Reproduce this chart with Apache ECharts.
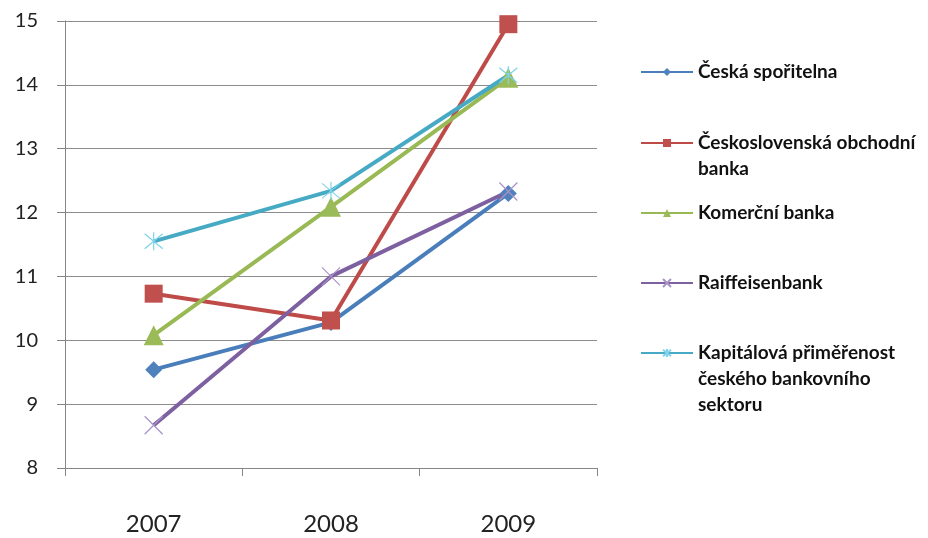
<!DOCTYPE html>
<html><head><meta charset="utf-8">
<script src="https://cdn.jsdelivr.net/npm/echarts@6/dist/echarts.min.js"></script>
<style>html,body{margin:0;padding:0;background:#fff}#c{width:928px;height:538px}</style>
</head><body><div id="c"></div>
<script>
const categories = ['2007', '2008', '2009'];
const ceskaSporitelna = [9.54, 10.28, 12.30];
const csob = [10.73, 10.31, 14.95];
const komercniBanka = [10.08, 12.09, 14.11];
const raiffeisenbank = [8.67, 11.0, 12.33];
const kapitalovaPrimerenost = [11.55, 12.34, 14.15];
const seriesNames = ['Česká spořitelna', 'Československá obchodní banka', 'Komerční banka', 'Raiffeisenbank', 'Kapitálová přiměřenost českého bankovního sektoru'];
const legendLabels = ['Česká spořitelna', 'Československá obchodní\nbanka', 'Komerční banka', 'Raiffeisenbank', 'Kapitálová přiměřenost\nčeského bankovního\nsektoru'];
const yTicks = {min: 8, max: 15, interval: 1};

const colors = ['#4A7EBB', '#BE4B48', '#98B954', '#7D60A0', '#46AAC5'];
const markerColors = ['#4F81BD', '#C0504D', '#9BBB59', '#A992C8', '#7FD3EA'];
const values = [ceskaSporitelna, csob, komercniBanka, raiffeisenbank, kapitalovaPrimerenost];
const symbols = ['diamond', 'rect', 'triangle', 'path://M0,0L10,10M10,0L0,10', 'path://M0,0L10,10M10,0L0,10M5,-1L5,11'];
const sizes = [17, 18, 20, 18, 18];
const stroked = [false, false, false, true, true];

const font = 'Lato, "Open Sans", sans-serif';
const series = seriesNames.map((n, i) => ({
  name: n, type: 'line', data: values[i], symbol: symbols[i], symbolSize: sizes[i],
  showAllSymbol: true,
  lineStyle: {color: colors[i], width: 4},
  itemStyle: stroked[i] ? {color: 'rgba(0,0,0,0)', borderColor: markerColors[i], borderWidth: 1.2}
                        : {color: markerColors[i], borderWidth: 0},
  emphasis: {disabled: true},
  animation: false
}));

const legendIconY = [72, 143, 213, 283, 353];
const lh = 26;
const legends = seriesNames.map((n, i) => {
  const parts = legendLabels[i].split('\n');
  const lines = parts.length;
  // prepend blank lines so the first line sits level with the legend icon
  const label = Array(lines - 1).fill(' ').concat(parts).join('\n');
  const half = (2 * lines - 1) * lh / 2;
  return {
    data: [n], orient: 'vertical', left: 640, top: legendIconY[i] - half, padding: 0,
    itemWidth: 52, itemHeight: 10, itemGap: 0,
    formatter: () => label,
    lineStyle: {width: 2},
    textStyle: {fontFamily: font, fontSize: 19, fontWeight: 'bold', color: '#111', lineHeight: lh},
    selectedMode: false
  };
});

const chart = echarts.init(document.getElementById('c'), null, {renderer: 'canvas'});
chart.setOption({
  animation: false,
  grid: {left: 65, top: 21, right: 331, bottom: 70, containLabel: false},
  legend: legends,
  xAxis: {
    type: 'category', data: categories, boundaryGap: true,
    axisLine: {lineStyle: {color: '#868686', width: 1}},
    axisTick: {show: true, length: 8, alignWithLabel: false, lineStyle: {color: '#868686'}},
    axisLabel: {fontFamily: font, fontSize: 24, color: '#222', margin: 44}
  },
  yAxis: {
    type: 'value', min: yTicks.min, max: yTicks.max, interval: yTicks.interval,
    axisLine: {show: true, lineStyle: {color: '#868686', width: 1}},
    axisTick: {show: true, length: 8, lineStyle: {color: '#868686'}},
    axisLabel: {fontFamily: font, fontSize: 20, color: '#222', margin: 27},
    splitLine: {lineStyle: {color: '#8c8c8c', width: 1}}
  },
  series: series
});
</script></body></html>
